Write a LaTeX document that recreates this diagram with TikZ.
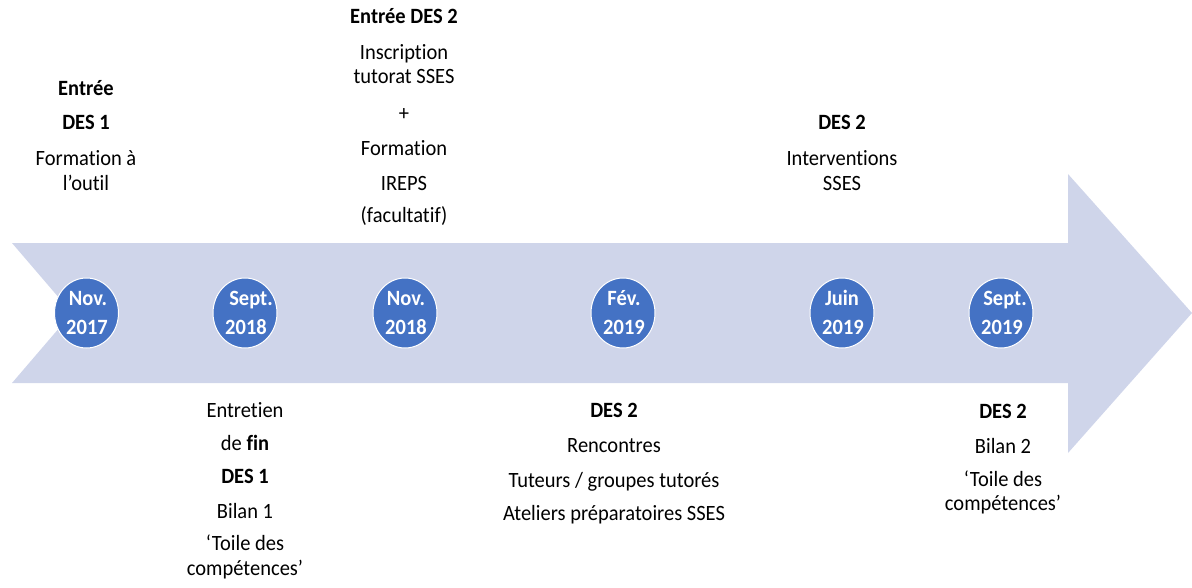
\documentclass[tikz,border=0pt]{standalone}
\usepackage{fontspec}
\setmainfont[Ligatures={NoCommon}, FakeStretch=0.94]{Carlito}
\usetikzlibrary{shapes.geometric}
\definecolor{arrowfill}{HTML}{CFD5EA}
\definecolor{dotblue}{HTML}{4472C4}
\begin{document}
\begin{tikzpicture}[x=1pt,y=-1pt,
  datebox/.style={ellipse, fill=dotblue, draw=white, line width=1pt,
    minimum width=64pt, minimum height=70pt, inner sep=0pt},
  datetxt/.style={anchor=base, inner sep=0pt, text=white,
    font=\fontsize{21.8}{24}\selectfont\bfseries},
  lbl/.style={anchor=base, inner sep=0pt, font=\fontsize{21.8}{24}\selectfont},
  blbl/.style={lbl, font=\fontsize{21.8}{24}\selectfont\bfseries}]
\useasboundingbox (0,0) rectangle (1192,587);
% big arrow
\fill[arrowfill] (12,243) -- (1068,243) -- (1068,174) -- (1192,313)
  -- (1068,453) -- (1068,383) -- (12,383) -- (72,313) -- cycle;
% date circles
\node[datebox] (d1) at (86.5,313) {};
\node[datebox] (d2) at (245,313) {};
\node[datebox] (d3) at (405,313) {};
\node[datebox] (d4) at (623,313) {};
\node[datebox] (d5) at (842,313) {};
\node[datebox] (d6) at (1001,313) {};
\node[datetxt] (d1a) at (88,305) {Nov.};
\node[datetxt] (d1b) at (87,334) {2017};
\node[datetxt] (d2a) at (251,305) {Sept.};
\node[datetxt] (d2b) at (246,334) {2018};
\node[datetxt] (d3a) at (406,305) {Nov.};
\node[datetxt] (d3b) at (406,334) {2018};
\node[datetxt] (d4a) at (624,305) {Fév.};
\node[datetxt] (d4b) at (624,334) {2019};
\node[datetxt] (d5a) at (842,305) {Juin};
\node[datetxt] (d5b) at (843,334) {2019};
\node[datetxt] (d6a) at (1005,305) {Sept.};
\node[datetxt] (d6b) at (1002,334) {2019};
% top left
\node[blbl] (t1a) at (86,95) {Entrée};
\node[blbl] (t1b) at (86,129) {DES 1};
\node[lbl]  (t1c) at (86,165) {Formation à};
\node[lbl]  (t1d) at (86,190) {l’outil};
% top middle
\node[blbl] (t2a) at (404,23) {Entrée DES 2};
\node[lbl]  (t2b) at (404,59) {Inscription};
\node[lbl]  (t2c) at (404,83) {tutorat SSES};
\node[lbl]  (t2d) at (404,120) {+};
\node[lbl]  (t2e) at (404,155) {Formation};
\node[lbl]  (t2f) at (404,190) {IREPS};
\node[lbl]  (t2g) at (404,222) {(facultatif)};
% top right
\node[blbl] (t3a) at (842,129) {DES 2};
\node[lbl]  (t3b) at (842,165) {Interventions};
\node[lbl]  (t3c) at (842,190) {SSES};
% bottom left
\node[lbl]  (b1a) at (245,417) {Entretien};
\node[lbl]  (b1b) at (245,450) {de \textbf{fin}};
\node[blbl] (b1c) at (245,483) {DES 1};
\node[lbl]  (b1d) at (245,518) {Bilan 1};
\node[lbl]  (b1e) at (245,550) {‘Toile des};
\node[lbl]  (b1f) at (245,575) {compétences’};
% bottom middle
\node[blbl] (b2a) at (614,417) {DES 2};
\node[lbl]  (b2b) at (614,452) {Rencontres};
\node[lbl]  (b2c) at (614,487) {Tuteurs / groupes tutorés};
\node[lbl]  (b2d) at (614,520) {Ateliers préparatoires SSES};
% bottom right
\node[blbl] (b3a) at (1003,418) {DES 2};
\node[lbl]  (b3b) at (1003,453) {Bilan 2};
\node[lbl]  (b3c) at (1003,486) {‘Toile des};
\node[lbl]  (b3d) at (1003,510) {compétences’};
\end{tikzpicture}
\end{document}
